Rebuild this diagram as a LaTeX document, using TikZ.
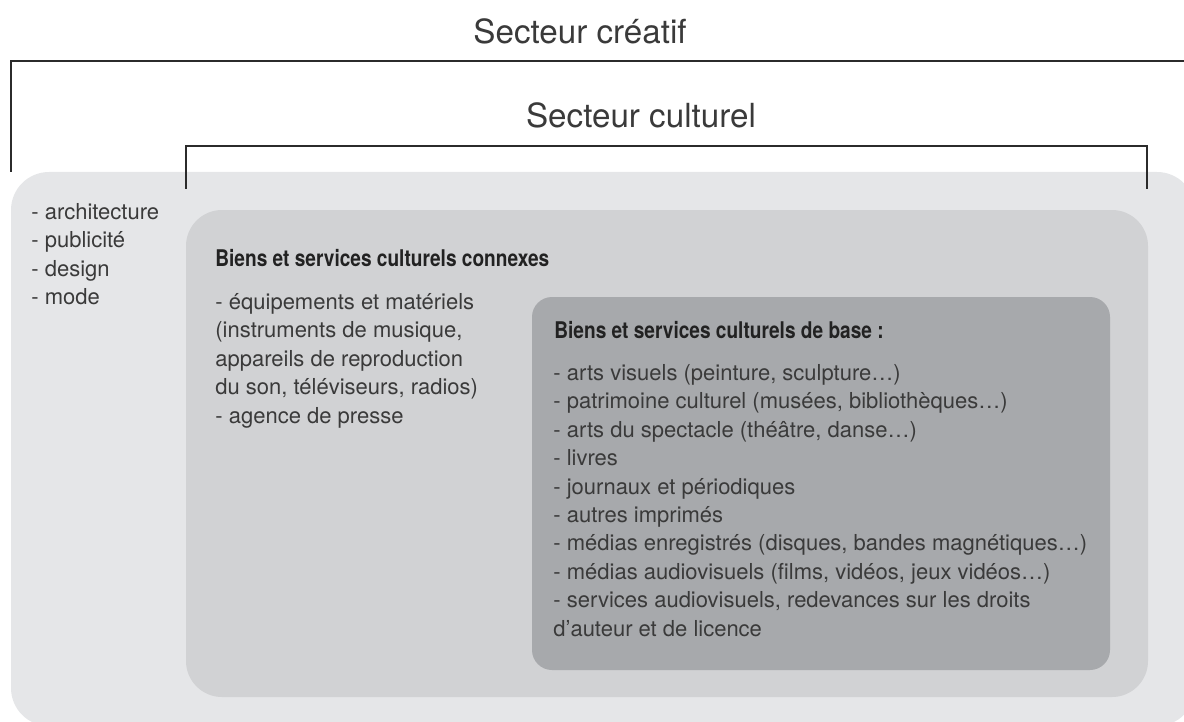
\documentclass[tikz,border=0pt]{standalone}
\usepackage{fontspec}
\setmainfont{TeX Gyre Heros}
\newfontfamily\headfont[FakeStretch=0.83]{TeX Gyre Heros}
\usetikzlibrary{positioning}
\definecolor{creatif}{HTML}{E5E6E8}
\definecolor{connexe}{HTML}{D1D2D4}
\definecolor{base}{HTML}{A7A9AC}
\definecolor{ink}{HTML}{2B2B2B}
\definecolor{lightink}{HTML}{3A3A3A}

\begin{document}
\begin{tikzpicture}[x=0.5pt,y=-0.5pt,
        bracket/.style={draw=ink,line width=1pt},
        title/.style={anchor=base,inner sep=0pt,text=lightink,font=\fontsize{16.6}{20}\selectfont},
        head/.style={anchor=north west,inner sep=0pt,text=ink!80!black,font=\headfont\bfseries\fontsize{11.5}{14}\selectfont},
        items/.style={anchor=north west,inner sep=0pt,align=left,text=lightink,font=\fontsize{11}{14.2}\selectfont}]

        \useasboundingbox (0,0) rectangle (1184,722);

        % boxes
        \begin{scope}
          \clip (0,0) rectangle (1184,722);
          \fill[creatif,rounded corners=19pt] (11,172) rectangle (1195,726);
        \end{scope}
        \fill[connexe,rounded corners=18pt] (186,210) rectangle (1148,697);
        \fill[base,rounded corners=10pt]    (532,297) rectangle (1110,670);

        % brackets
        \coordinate (CRl) at (11,172);
        \coordinate (CRr) at (1184,61);
        \coordinate (CUl) at (186,189);
        \coordinate (CUr) at (1147,189);
        \coordinate (CUt) at (666,146);

        \draw[bracket] (CRl) |- (CRr);
        \draw[bracket] (CUl) |- (CUt) -| (CUr);

        \node[title] (creatif) at (580,44)  {Secteur créatif};
        \node[title] (culturel) at (641,128) {Secteur culturel};

        % texts
        \node[items] (autres) at (31,203) {- architecture\\- publicité\\- design\\- mode};

        \node[head]  (connexes) at (215,248.5) {Biens et services culturels connexes};
        \node[items] (materiel) at (215,293)   {- équipements et matériels\\(instruments de musique,\\appareils de reproduction\\du son, téléviseurs, radios)\\- agence de presse};

        \node[head]  (noyau) at (554,320.5) {Biens et services culturels de base :};
        \node[items] (liste) at (553,364)   {- arts visuels (peinture, sculpture…)\\- patrimoine culturel (musées, bibliothèques…)\\- arts du spectacle (théâtre, danse…)\\- livres\\- journaux et périodiques\\- autres imprimés\\- médias enregistrés (disques, bandes magnétiques…)\\- médias audiovisuels (films, vidéos, jeux vidéos…)\\- services audiovisuels, redevances sur les droits\\d’auteur et de licence};
      \end{tikzpicture}
\end{document}
